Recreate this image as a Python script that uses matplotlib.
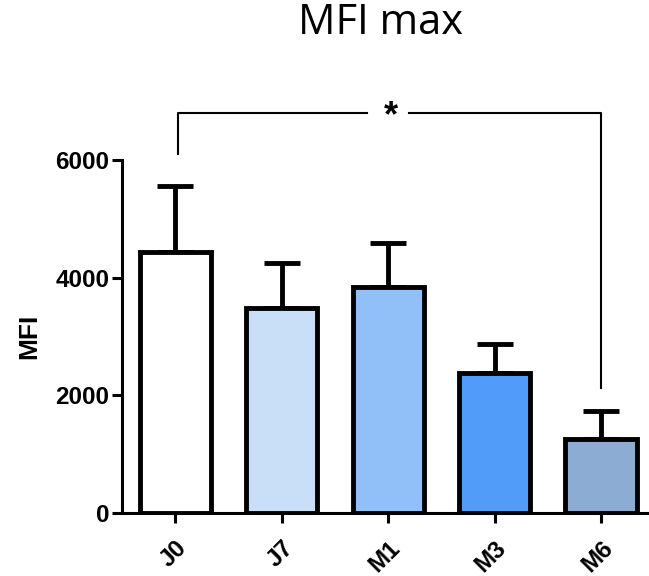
import numpy as np
import matplotlib
matplotlib.use("Agg")
import matplotlib.pyplot as plt

# data
groups = ["J0", "J7", "M1", "M3", "M6"]
means = [4440, 3485, 3836, 2387, 1265]
upper = [5558, 4256, 4589, 2880, 1729]
colors = ["#FFFFFF", "#C9DEF7", "#91BFF7", "#509CF8", "#8CACD3"]
yticks = [0, 2000, 4000, 6000]

err = np.array(upper) - np.array(means)
x = np.arange(len(groups))

fig = plt.figure(figsize=(6.49, 5.76), dpi=100)
ax = fig.add_axes([0.188, 0.1094, 0.812, 0.6128])

ax.bar(x, means, width=0.67, color=colors, edgecolor="black", linewidth=3.5, zorder=2)
ax.errorbar(x, means, yerr=[np.zeros(len(x)), err], fmt="none", ecolor="black",
            elinewidth=3.5, capsize=13, capthick=3.5, zorder=1)

ax.set_xlim(-0.5, 4.45)
ax.set_ylim(0, 6000)
ax.set_yticks(yticks)
ax.set_xticks(x)
ax.set_xticklabels(groups, rotation=45, ha="right", rotation_mode="anchor")

for s in ["top", "right"]:
    ax.spines[s].set_visible(False)
for s in ["left", "bottom"]:
    ax.spines[s].set_linewidth(2.2)
ax.tick_params(axis="both", width=2.2, length=7, labelsize=17.5, pad=2)
ax.tick_params(axis="x", pad=10)
for lab in ax.get_xticklabels() + ax.get_yticklabels():
    lab.set_fontweight("bold")
    lab.set_family("Liberation Sans")

ax.set_ylabel("MFI", fontsize=19, fontweight="bold", family="Liberation Sans", labelpad=10)

# significance bracket J0 vs M6
yb = 6794
ax.plot([0.03, 0.03, 1.8], [6100, yb, yb], color="black", lw=1.5, clip_on=False)
ax.plot([2.2, 4.0, 4.0], [yb, yb, 2122], color="black", lw=1.5, clip_on=False)
ax.text(2.03, yb - 60, "*", ha="center", va="center", fontsize=26, fontweight="bold",
        family="Liberation Sans")

fig.text(0.586, 0.96, "MFI max", ha="center", va="center", fontsize=30, family="Open Sans")

fig.savefig("out.png", dpi=100)
